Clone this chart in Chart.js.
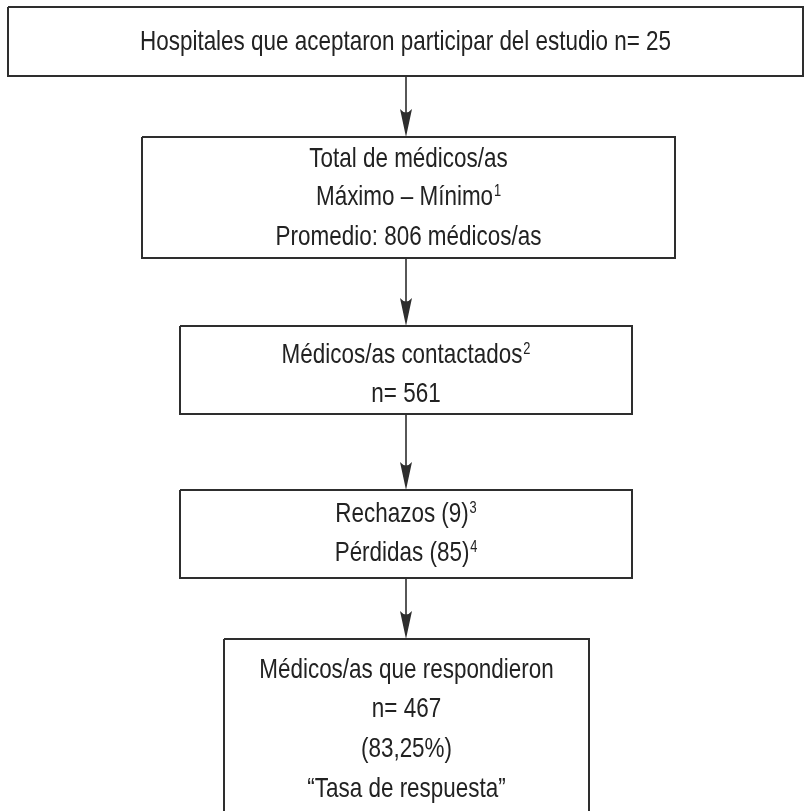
<!DOCTYPE html>
<html>
<head>
<meta charset="utf-8">
<script src="https://cdn.jsdelivr.net/npm/chart.js@4/dist/chart.umd.min.js"></script>
<style>
  html, body { margin: 0; padding: 0; background: #fff; }
  #wrap { width: 804px; height: 811px; position: relative; }
</style>
</head>
<body>
<div id="wrap"><canvas id="flow"></canvas></div>
<script>
// Flow data: text of each box, [text, superscript]
const box1Lines = [['Hospitales que aceptaron participar del estudio n= 25', '']];
const box2Lines = [['Total de médicos/as', ''], ['Máximo – Mínimo', '1'], ['Promedio: 806 médicos/as', '']];
const box3Lines = [['Médicos/as contactados', '2'], ['n= 561', '']];
const box4Lines = [['Rechazos (9)', '3'], ['Pérdidas (85)', '4']];
const box5Lines = [['Médicos/as que respondieron', ''], ['n= 467', ''], ['(83,25%)', ''], ['“Tasa de respuesta”', '']];
const boxLines = [box1Lines, box2Lines, box3Lines, box4Lines, box5Lines];

// Layout of the boxes, in scale units (one unit = one pixel here)
const frames = [
    { x0: 8,   x1: 803, y0: 7,   y1: 76,  base: [50] },
    { x0: 142, x1: 675, y0: 137, y1: 258, base: [167, 205, 245] },
    { x0: 180, x1: 632, y0: 326, y1: 414, base: [363, 402] },
    { x0: 180, x1: 632, y0: 490, y1: 578, base: [522, 561] },
    { x0: 224, x1: 589, y0: 639, y1: 840, base: [678, 717, 757, 797] }
];
const arrowX = 406;

const lineColor = '#2e2e2e';
const textColor = '#222222';
const fontFamily = '"Liberation Sans", Arial, sans-serif';
const fontSize = 28;
const supSize = 16;
const line1Width = 531; // printed width of the first box's text

// Box outlines and arrow shafts as line datasets
const datasets = [];
frames.forEach(f => {
    datasets.push({
        data: [
            { x: f.x0, y: f.y0 }, { x: f.x1, y: f.y0 },
            { x: f.x1, y: f.y1 }, { x: f.x0, y: f.y1 }, { x: f.x0, y: f.y0 }
        ],
        showLine: true,
        borderColor: lineColor,
        borderWidth: 2,
        pointRadius: 0,
        tension: 0
    });
});
for (let i = 0; i < frames.length - 1; i++) {
    datasets.push({
        data: [{ x: arrowX, y: frames[i].y1 }, { x: arrowX, y: frames[i + 1].y0 - 10 }],
        showLine: true,
        borderColor: lineColor,
        borderWidth: 1.6,
        pointRadius: 0
    });
}

const flowPlugin = {
    id: 'flowText',
    afterDatasetsDraw(chart) {
        const { ctx, scales } = chart;
        const sx = v => scales.x.getPixelForValue(v);
        const sy = v => scales.y.getPixelForValue(v);
        ctx.save();

        // arrow heads
        ctx.fillStyle = lineColor;
        for (let i = 1; i < frames.length; i++) {
            const tx = sx(arrowX), ty = sy(frames[i].y0);
            ctx.beginPath();
            ctx.moveTo(tx, ty);
            ctx.lineTo(tx - 6, ty - 28);
            ctx.quadraticCurveTo(tx, ty - 21, tx + 6, ty - 28);
            ctx.closePath();
            ctx.fill();
        }

        // condensed text: squeeze horizontally so the top line keeps its printed width
        ctx.font = fontSize + 'px ' + fontFamily;
        const squeeze = line1Width / ctx.measureText(box1Lines[0][0]).width;

        ctx.fillStyle = textColor;
        ctx.textBaseline = 'alphabetic';
        ctx.textAlign = 'left';
        frames.forEach((f, bi) => {
            const cx = sx((f.x0 + f.x1) / 2);
            boxLines[bi].forEach((ln, li) => {
                const by = sy(f.base[li]);
                ctx.font = fontSize + 'px ' + fontFamily;
                const w = ctx.measureText(ln[0]).width;
                ctx.font = supSize + 'px ' + fontFamily;
                const ws = ln[1] ? ctx.measureText(ln[1]).width + 1 : 0;
                const total = (w + ws) * squeeze;
                ctx.save();
                ctx.translate(cx - total / 2, by);
                ctx.scale(squeeze, 1);
                ctx.font = fontSize + 'px ' + fontFamily;
                ctx.fillText(ln[0], 0, 0);
                if (ln[1]) {
                    ctx.font = supSize + 'px ' + fontFamily;
                    ctx.fillText(ln[1], w + 1, -9);
                }
                ctx.restore();
            });
        });
        ctx.restore();
    }
};

new Chart(document.getElementById('flow'), {
    type: 'scatter',
    data: { datasets },
    options: {
        responsive: true,
        maintainAspectRatio: false,
        animation: false,
        layout: { padding: 0 },
        plugins: { legend: { display: false }, tooltip: { enabled: false } },
        scales: {
            x: { type: 'linear', min: 0, max: 804, display: false },
            y: { type: 'linear', min: 0, max: 811, reverse: true, display: false }
        }
    },
    plugins: [flowPlugin]
});
</script>
</body>
</html>
